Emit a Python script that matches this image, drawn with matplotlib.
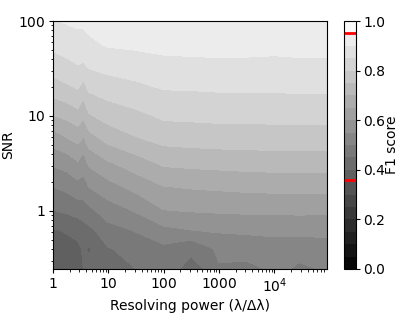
import matplotlib
matplotlib.use("Agg")
import matplotlib.pyplot as plt
import numpy as np

# grid: resolving power (columns) x SNR (rows)
resolving_power = [1, 1.78, 2.82, 3.55, 4.47, 10, 31.6, 100, 316, 1000, 3160, 1e4, 2.82e4, 8.9e4]
snr = [100, 56.2, 31.6, 17.8, 10, 5.62, 3.16, 1.78, 1.0, 0.63, 0.4, 0.245]

# F1 score, one row per SNR value (top to bottom)
f1_grid = [
    [0.898, 0.905, 0.910, 0.910, 0.915, 0.925, 0.930, 0.935, 0.935, 0.935, 0.935, 0.935, 0.935, 0.940],
    [0.865, 0.875, 0.885, 0.885, 0.892, 0.905, 0.910, 0.915, 0.918, 0.920, 0.920, 0.918, 0.920, 0.920],
    [0.820, 0.835, 0.845, 0.840, 0.850, 0.865, 0.875, 0.885, 0.886, 0.887, 0.886, 0.884, 0.887, 0.886],
    [0.770, 0.785, 0.795, 0.770, 0.800, 0.818, 0.833, 0.847, 0.848, 0.850, 0.851, 0.850, 0.853, 0.852],
    [0.697, 0.715, 0.735, 0.710, 0.745, 0.775, 0.790, 0.810, 0.812, 0.815, 0.815, 0.816, 0.817, 0.816],
    [0.625, 0.645, 0.665, 0.640, 0.680, 0.717, 0.745, 0.768, 0.772, 0.775, 0.776, 0.777, 0.778, 0.777],
    [0.560, 0.575, 0.595, 0.575, 0.610, 0.645, 0.680, 0.710, 0.716, 0.720, 0.723, 0.725, 0.726, 0.725],
    [0.500, 0.515, 0.535, 0.530, 0.550, 0.585, 0.620, 0.648, 0.655, 0.660, 0.665, 0.668, 0.670, 0.670],
    [0.448, 0.460, 0.475, 0.480, 0.490, 0.528, 0.555, 0.598, 0.603, 0.607, 0.610, 0.610, 0.612, 0.610],
    [0.397, 0.405, 0.415, 0.430, 0.440, 0.485, 0.505, 0.540, 0.550, 0.558, 0.562, 0.565, 0.566, 0.566],
    [0.380, 0.385, 0.392, 0.405, 0.395, 0.448, 0.470, 0.490, 0.465, 0.515, 0.520, 0.530, 0.527, 0.530],
    [0.370, 0.375, 0.390, 0.400, 0.410, 0.430, 0.450, 0.465, 0.430, 0.495, 0.490, 0.510, 0.490, 0.510],
]

# values marked in red on the colour bar
marked_levels = [0.36, 0.95]

plt.rcParams['axes.formatter.min_exponent'] = 4
plt.rcParams['font.size'] = 10
plt.rcParams['xtick.major.size'] = 3
plt.rcParams['ytick.major.size'] = 3
plt.rcParams['xtick.major.pad'] = 2.5
plt.rcParams['ytick.major.pad'] = 2.5
plt.rcParams['xtick.minor.size'] = 1.8
plt.rcParams['ytick.minor.size'] = 1.8

fig = plt.figure(figsize=(4.01, 3.24), dpi=100)
ax = fig.add_axes([0.132, 0.170, 0.683, 0.765])
cax = fig.add_axes([0.858, 0.170, 0.031, 0.765])

X, Y = np.meshgrid(resolving_power, snr)
levels = np.linspace(0, 1, 21)
cs = ax.contourf(X, Y, np.array(f1_grid), levels=levels, cmap='gray', vmin=0, vmax=1)

ax.set_xscale('log')
ax.set_yscale('log')
ax.set_xlim(resolving_power[0], resolving_power[-1])
ax.set_ylim(snr[-1], snr[0])
ax.set_xlabel('Resolving power (λ/Δλ)', labelpad=3)
ax.set_ylabel('SNR', labelpad=2)

cbar = fig.colorbar(cs, cax=cax, ticks=[0, 0.2, 0.4, 0.6, 0.8, 1.0])
cbar.ax.tick_params(pad=2)
cbar.set_label('F1 score', labelpad=0)
for lev in marked_levels:
    cax.axhline(lev, color='red', lw=2)

fig.savefig('out.png', dpi=100)
